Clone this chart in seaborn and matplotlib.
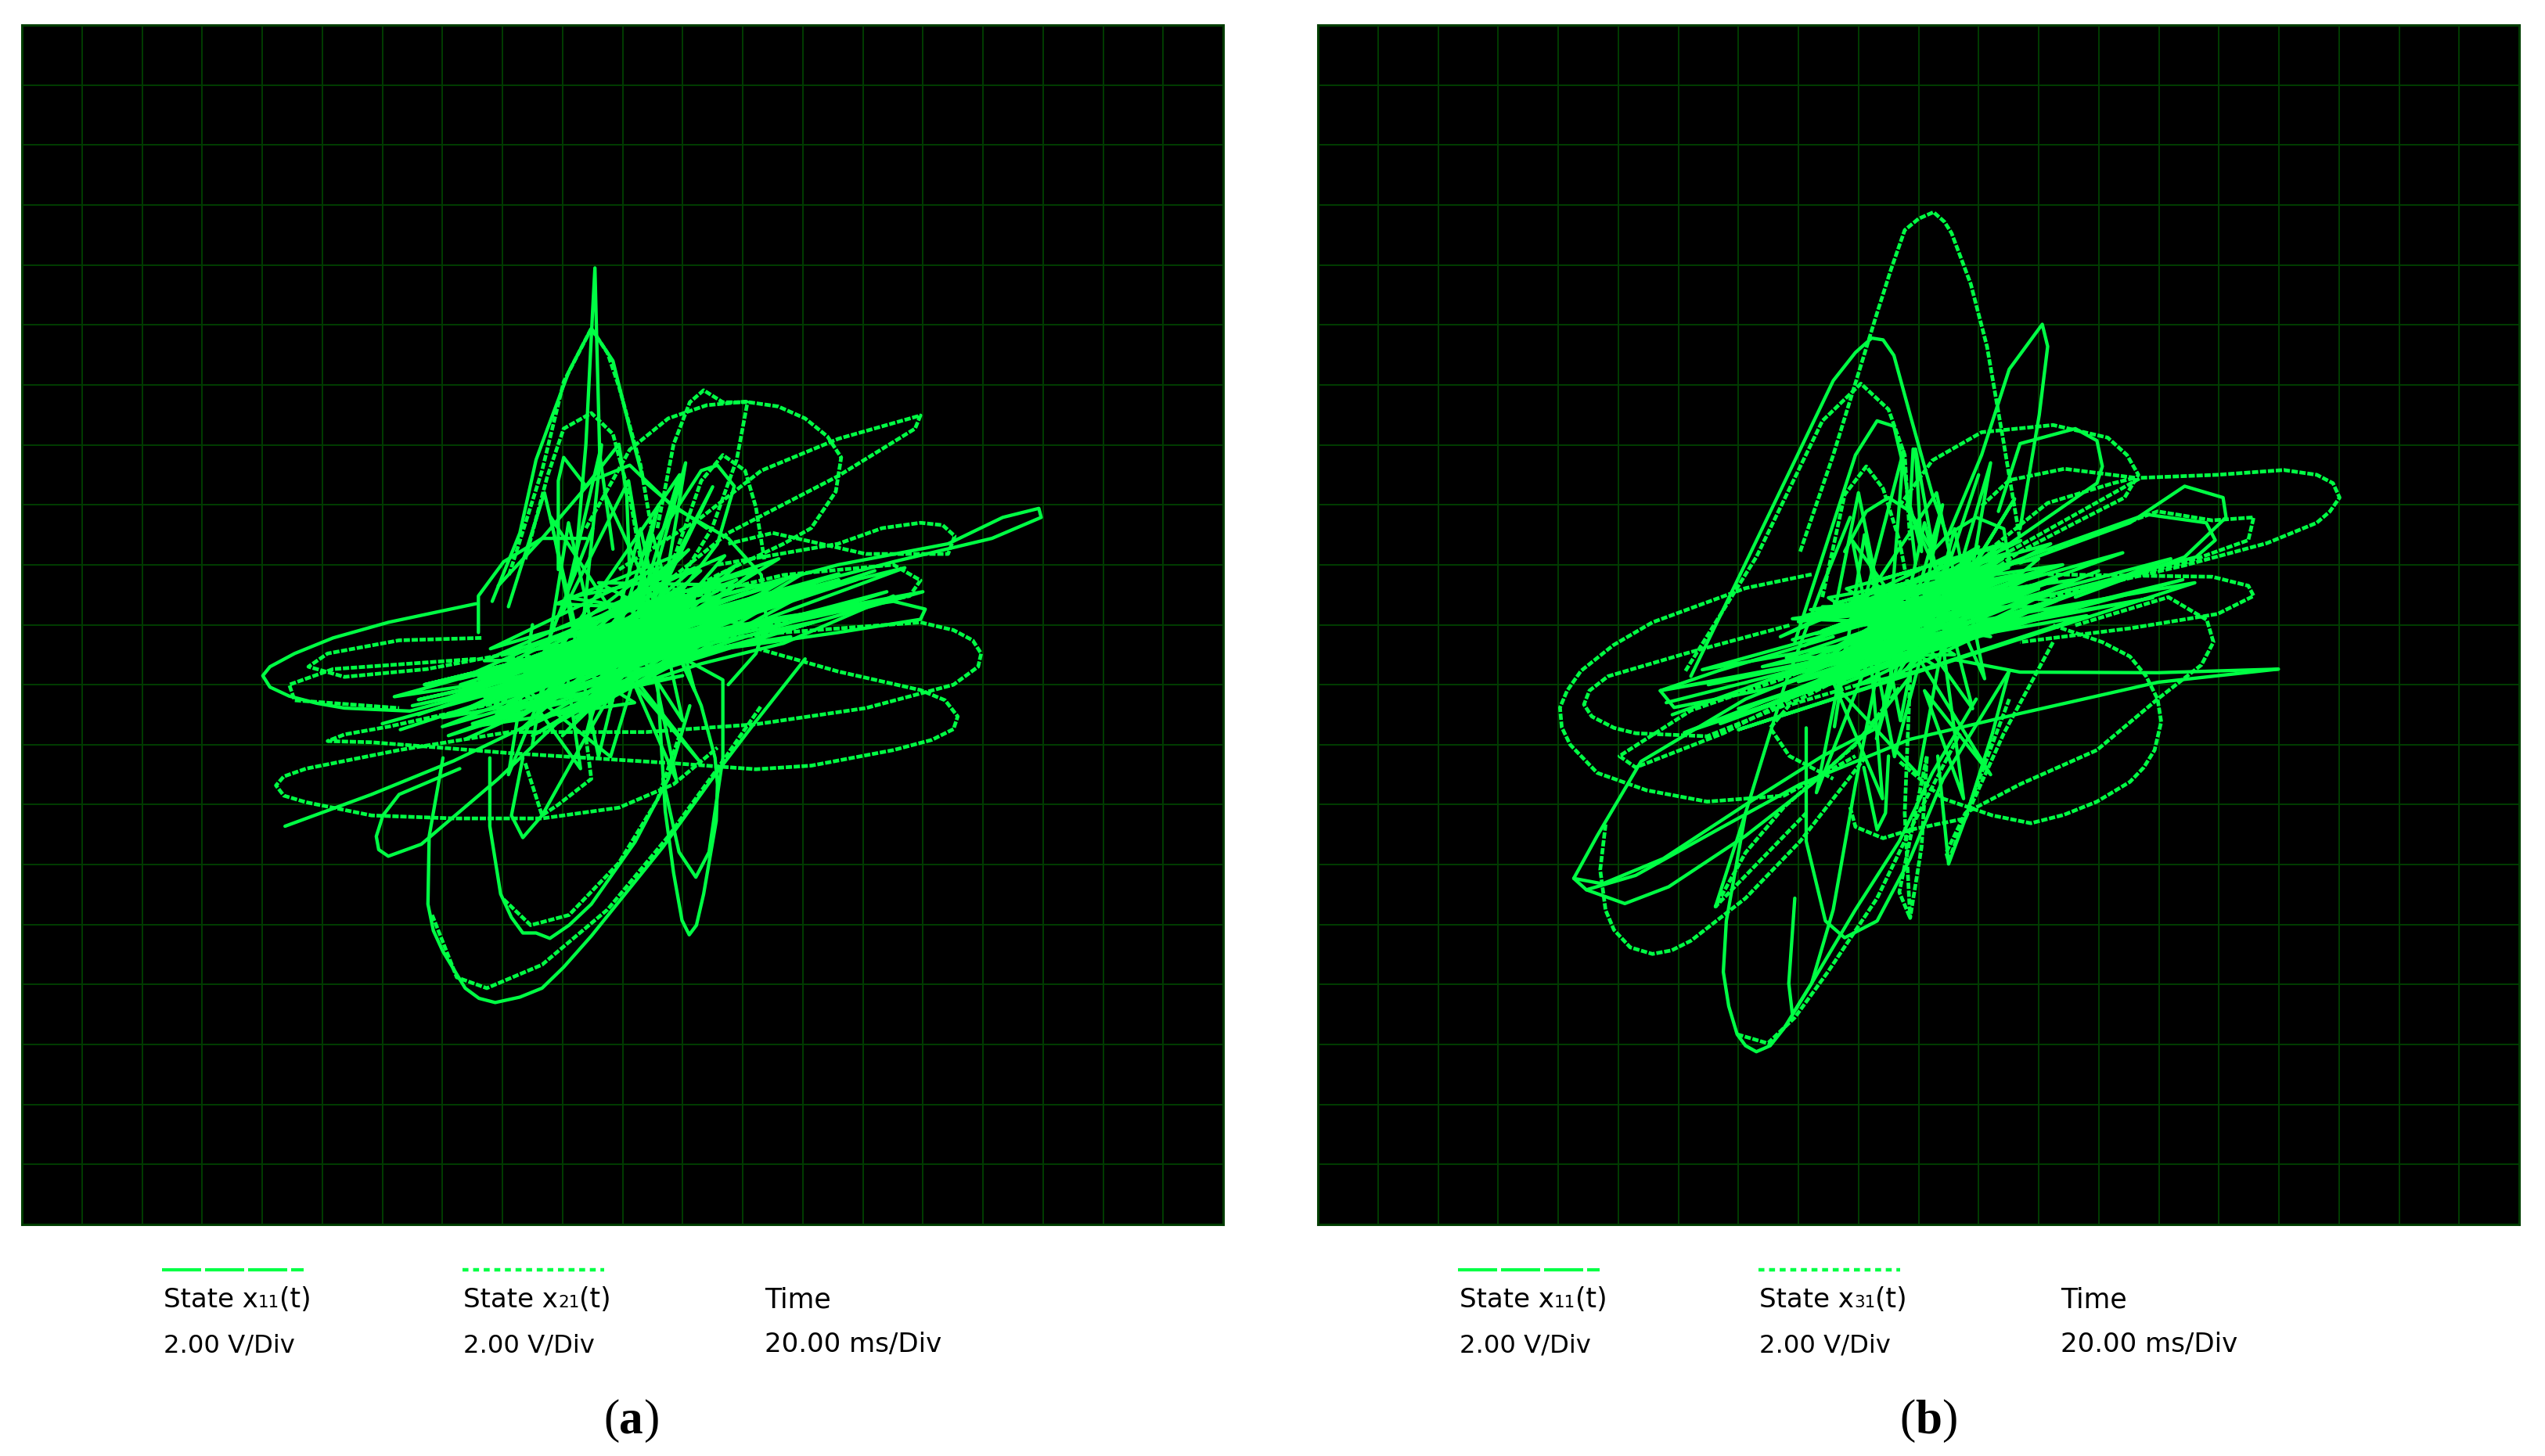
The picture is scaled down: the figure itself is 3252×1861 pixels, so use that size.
import seaborn as sns
import matplotlib
matplotlib.use("Agg")
import matplotlib.pyplot as plt
from matplotlib.lines import Line2D

W, H = 3252, 1861
GREEN = "#00ff44"
GRID = "#003d00"

# all traces in scope divisions from the screen centre
# panel (a)
a_spike_x = [-0.80, -0.61, -0.50, -0.46, -0.43, -0.38, -0.16]
a_spike_y = [0.83, 3.01, 5.20, 5.95, 4.75, 2.84, 1.26]
a_dome_x = [-2.17, -1.71, -1.44, -1.25, -0.89, -0.52, -0.16, 0.12, 0.35, 0.76, 1.40]
a_dome_y = [0.39, 1.53, 2.75, 3.27, 4.23, 4.94, 4.40, 3.27, 2.40, 2.05, 1.61]
a_dome2_x = [-1.89, -1.34, -0.98, -0.52, -0.25, -0.06, 0.30, 0.48]
a_dome2_y = [0.83, 2.57, 4.05, 4.94, 4.53, 3.97, 2.66, 1.61]
a_top_x = [-0.61, 0.12, 0.76, 1.40, 2.04, 2.59, 3.04, 3.41, 3.64, 3.55, 3.14, 2.68, 1.58, 0.48]
a_top_y = [1.61, 2.92, 3.44, 3.66, 3.72, 3.64, 3.44, 3.14, 2.79, 2.22, 1.61, 1.35, 0.83, 0.22]
a_hump_x = [0.58, 0.85, 1.12, 1.35, 1.67, 2.08, 1.90, 1.49, 0.85]
a_hump_y = [1.61, 3.01, 3.71, 3.91, 3.71, 3.71, 2.75, 1.61, 0.57]
a_ne_x = [-0.06, 1.31, 2.31, 3.59, 4.96, 4.87, 3.59, 1.76, 0.12]
a_ne_y = [0.92, 1.79, 2.57, 3.10, 3.49, 3.27, 2.48, 1.53, 0.22]
a_tip_x = [0.67, 3.59, 5.42, 6.33, 6.93, 6.97, 6.15, 4.51, 2.68, 0.85]
a_tip_y = [0.22, 1.00, 1.35, 1.79, 1.94, 1.79, 1.44, 1.05, 0.57, 0.04]
a_east_x = [1.58, 3.59, 4.32, 4.96, 5.33, 5.53, 5.42, 4.05, 2.50, 1.76]
a_east_y = [1.00, 1.35, 1.61, 1.70, 1.66, 1.48, 1.18, 1.18, 1.53, 1.35]
a_east2_x = [0.85, 2.68, 4.51, 4.96, 4.78, 3.59, 1.76, -0.06]
a_east2_y = [0.39, 0.83, 1.00, 0.74, 0.48, 0.22, -0.13, -0.48]
a_east3_x = [-0.06, 2.68, 4.51, 5.04, 4.96, 3.59, 1.76, -0.98]
a_east3_y = [-0.39, 0.13, 0.39, 0.26, 0.09, -0.13, -0.39, -0.83]
a_right_x = [-1.89, 2.68, 4.96, 5.51, 5.83, 5.97, 5.92, 5.51, 4.05, 2.22, 0.39, -1.89]
a_right_y = [-0.57, -0.13, 0.04, -0.09, -0.26, -0.48, -0.70, -1.00, -1.39, -1.66, -1.79, -1.79]
a_lower_x = [2.22, 3.59, 4.96, 5.37, 5.58, 5.51, 5.15, 4.51, 3.14, 2.22, 0.85, -1.89, -4.18, -4.91, -4.63, -3.90, -1.89]
a_lower_y = [-0.39, -0.78, -1.09, -1.26, -1.53, -1.74, -1.92, -2.09, -2.35, -2.41, -2.31, -2.14, -1.96, -1.94, -1.83, -1.70, -1.26]
a_west_x = [-2.44, -3.90, -4.82, -5.46, -5.87, -5.99, -5.87, -5.55, -5.09, -4.63, -3.54, -1.89, -0.52]
a_west_y = [0.35, 0.04, -0.22, -0.48, -0.70, -0.85, -1.04, -1.19, -1.31, -1.39, -1.44, -1.00, -0.39]
a_west2_x = [-2.35, -3.72, -4.91, -5.23, -4.63, -3.26, -1.89]
a_west2_y = [-0.22, -0.26, -0.48, -0.70, -0.87, -0.74, -0.48]
a_west3_x = [-2.44, -4.82, -5.55, -5.46, -3.72]
a_west3_y = [-0.57, -0.74, -1.00, -1.26, -1.39]
a_sw_x = [-1.89, -3.72, -5.27, -5.64, -5.77, -5.64, -5.27, -4.18, -2.81, -1.34, -0.06, 0.85, 1.58]
a_sw_y = [-1.79, -2.09, -2.40, -2.53, -2.68, -2.85, -2.96, -3.18, -3.23, -3.23, -3.05, -2.66, -2.05]
a_tail_x = [-5.62, -4.18, -2.81, -1.44, -0.06, 1.31, 2.68, 4.51]
a_tail_y = [-3.36, -2.83, -2.27, -1.61, -1.09, -0.65, -0.31, 0.48]
a_big_x = [-2.99, -3.22, -3.24, -3.15, -2.99, -2.62, -2.39, -2.12, -1.71, -1.34, -0.98, -0.52, 0.67, 1.49, 2.22, 3.04]
a_big_y = [-2.22, -3.53, -4.66, -5.10, -5.45, -6.06, -6.23, -6.30, -6.21, -6.06, -5.71, -5.19, -3.71, -2.57, -1.61, -0.57]
a_big2_x = [-3.17, -2.76, -2.26, -1.34, -0.25, 0.76, 1.58, 2.31]
a_big2_y = [-4.84, -5.88, -6.06, -5.67, -4.75, -3.53, -2.40, -1.35]
a_mid_x = [-2.21, -2.21, -2.03, -1.85, -1.66, -1.44, -1.21, -0.89, -0.52, 0.21, 0.76, 1.12]
a_mid_y = [-2.22, -3.36, -4.49, -4.88, -5.14, -5.14, -5.23, -5.01, -4.66, -3.62, -2.57, -1.35]
a_mid2_x = [-1.98, -1.53, -0.89, -0.06, 0.58, 0.94]
a_mid2_y = [-4.58, -5.01, -4.84, -3.97, -2.92, -1.87]
a_narrow_x = [0.58, 0.71, 0.85, 0.99, 1.11, 1.23, 1.35, 1.56, 1.58, 1.54, 1.31, 0.94]
a_narrow_y = [-0.92, -3.10, -4.14, -4.93, -5.17, -5.01, -4.49, -3.27, -2.66, -2.22, -1.35, -0.48]
a_narrow2_x = [0.67, 0.94, 1.22, 1.44, 1.67, 1.67, 1.03]
a_narrow2_y = [-2.57, -3.79, -4.21, -3.79, -2.22, -0.92, -0.57]
a_small_x = [-2.71, -3.72, -3.99, -4.10, -4.06, -3.90, -3.35, -2.07, -0.61, 0.30]
a_small_y = [-2.40, -2.83, -3.18, -3.53, -3.75, -3.86, -3.66, -2.57, -1.18, -0.31]
a_low_x = [-1.66, -1.85, -1.66, -1.34, -0.61, -0.16]
a_low_y = [-2.22, -3.18, -3.55, -3.18, -1.87, -1.09]
a_low2_x = [-1.62, -1.34, -1.07, -0.52, -0.61]
a_low2_y = [-2.31, -3.18, -3.00, -2.57, -1.87]
a_up1_x = [-2.07, -1.34, -0.52, 0.12, 0.85, 1.76, 2.31, 2.40, 2.22, 1.76]
a_up1_y = [0.65, 1.44, 2.40, 2.66, 1.96, 1.44, 0.83, 0.04, -0.48, -1.00]
a_up2_x = [-1.07, -1.07, -0.98, -0.61, -0.06, 0.07, 0.12]
a_up2_y = [0.92, 2.40, 2.79, 2.31, 3.01, 2.14, 0.83]
a_up3_x = [-1.62, -1.25, -0.98, -0.52, -0.16, 0.12, 0.30]
a_up3_y = [1.09, 2.48, 3.27, 3.53, 3.18, 2.14, 1.09]
a_up4_x = [0.85, 1.31, 1.67, 2.04, 2.22, 2.36]
a_up4_y = [1.09, 2.40, 2.83, 2.57, 1.96, 1.09]
a_up5_x = [0.58, 1.31, 1.58, 1.86, 1.58, 0.85]
a_up5_y = [1.44, 2.57, 2.66, 2.31, 1.35, 0.39]
a_up6_x = [-2.40, -2.40, -1.98, -1.34, -0.61]
a_up6_y = [-0.13, 0.48, 1.05, 1.44, 1.44]
a_core_x = [-3.4, 1.5, -2.2, 3.2, -1.6, 1.2, -2.8, 2.4, -1.3, 4.2, -2.0, 0.9, -1.1, 1.8, -2.6, 1.0, -0.9,
            2.9, -1.9, 1.4, -1.4, 3.6, -2.4, 0.8, -0.7, 2.1, -3.0, 1.3, -1.2, 1.0, -1.7, 2.6, -0.8, 1.6,
            -2.1, 0.9, -1.5, 3.0, -2.3, 1.2, -1.0, 1.9, -1.8, 1.4, -0.6, 2.2, -2.7, 0.7, -1.3, 1.1]
a_core_y = [-1.5, 0.2, -1.2, 0.7, -0.8, 0.45, -1.5, 0.55, -0.95, 0.9, -1.1, 0.55, -0.6, 0.3, -1.05, 0.5, -0.9,
            0.45, -0.7, 0.6, -1.2, 0.75, -0.85, 0.25, -0.35, 0.55, -1.25, 0.05, -0.75, 0.65, -0.95, 0.35, -0.45,
            0.7, -0.85, 0.1, -0.55, 0.5, -1.2, 0.4, -0.9, 0.75, -0.65, 0.2, -0.75, 0.3, -0.9, 0.6, -0.4, 0.15]
a_core2_x = [-2.6, 1.8, -2.0, 2.6, -1.8, 1.2, -2.4, 1.6, -1.2, 2.2, -2.2, 0.6, -1.6, 2.8, -2.8, 0.4, -1.0, 1.9,
             -2.0, 1.5, -0.8, 3.2, -1.4, 0.2, -2.5, 2.0, -1.1, 1.0, -1.9, 2.4, -0.5, 1.7, -2.3, 0.9, -1.7, 1.3,
             -0.9, 2.1, -2.1, 1.1, -1.3, 0.7, -2.7, 2.5, -0.4, 1.4, -1.5, 3.0, -1.0, 0.5]
a_core2_y = [-1.9, 0.1, -0.5, 1.1, -1.6, 0.95, -0.9, -0.1, -1.7, 0.9, -0.4, 0.95, -1.7, 0.8, -1.3, -0.35, -1.85,
             1.0, -1.4, -0.1, -1.55, 0.6, -0.3, -1.3, -1.7, 0.2, 0.35, 1.2, -1.2, 0.3, -1.4, 1.15, -0.6, -0.55,
             -1.75, 0.9, 0.45, 0.0, -1.5, 1.25, -1.15, -0.7, -1.0, 0.65, 0.7, -0.25, -1.85, 0.85, -0.2, 0.95]
a_vert_x = [-1.5, -0.9, -0.2, 0.6, -0.6, 0.3, 1.0, -1.2, -0.4, 0.5, 1.2, -0.3]
a_vert_y = [-2.0, 1.7, -1.4, 2.0, -1.8, 1.6, -1.6, 1.8, -2.2, 1.5, -1.1, 2.2]
a_vert2_x = [-1.9, -1.3, -0.7, -0.35, -1.0, 0.1, 0.55, 1.05, 0.3, 1.5, -0.1, 0.95, -1.6, -0.5]
a_vert2_y = [0.3, 2.2, -0.4, 3.0, 0.2, 2.4, -0.3, 2.7, 0.0, 2.3, -1.0, 2.5, -1.2, 1.6]
a_vert3_x = [-1.5, -1.9, -1.0, -0.7, -1.7, -0.2, 0.4, 0.9, 0.2, 1.3, -0.5]
a_vert3_y = [0.0, -2.5, -0.3, -2.4, -1.0, -2.2, -0.2, -2.6, -1.0, -2.3, 0.0]
a_flat_x = [-4.0, 0.5, -3.4, 2.0, -3.0, 1.0, -2.5, 4.4, -2.0]
a_flat_y = [-1.65, -0.4, -1.25, 0.0, -1.55, -0.85, -1.65, 0.55, -1.15]
a_fan_x = [-3.7, 3.9, -3.3, 4.7, -2.9, 3.2, -3.5, 4.2, -2.5, 5.0, -3.0, 3.6, -3.8, 2.8]
a_fan_y = [-1.75, 0.75, -1.0, 0.95, -1.85, 0.05, -1.35, 0.35, -0.85, 0.55, -1.7, 0.85, -1.2, -0.2]

# panel (b)
b_dome_x = [-1.97, -1.42, -0.69, -0.46, -0.23, 0.00, 0.25, 0.43, 0.55, 0.87, 1.14, 1.42, 1.69]
b_dome_y = [1.22, 2.83, 5.20, 5.92, 6.58, 6.77, 6.88, 6.72, 6.53, 5.68, 4.64, 3.02, 1.41]
b_tip_x = [0.50, 1.05, 1.51, 2.06, 2.15, 2.01, 1.69]
b_tip_y = [1.51, 2.83, 4.26, 5.01, 4.64, 3.50, 1.60]
b_dome2_x = [-3.79, -3.06, -2.24, -1.42, -1.05, -0.78, -0.59, -0.41, -0.14, 0.23, 0.50]
b_dome2_y = [-0.86, 0.65, 2.36, 4.07, 4.54, 4.78, 4.75, 4.49, 3.50, 2.17, 1.41]
b_dome3_x = [-3.88, -2.70, -1.60, -0.96, -0.50, -0.23, -0.14]
b_dome3_y = [-0.77, 1.13, 3.40, 4.02, 3.59, 2.83, 1.41]
b_dome4_x = [-2.06, -1.60, -1.05, -0.69, -0.41, -0.23, -0.05]
b_dome4_y = [-0.29, 1.13, 2.83, 3.40, 3.31, 2.55, 1.03]
b_dome5_x = [-1.60, -1.23, -0.87, -0.59, -0.32, -0.14]
b_dome5_y = [0.46, 2.17, 2.64, 2.27, 1.41, 0.46]
b_ur_x = [-0.32, 0.23, 1.05, 2.24, 3.15, 3.47, 3.66, 3.43, 2.61, 1.69, 0.59]
b_ur_y = [1.98, 2.74, 3.21, 3.33, 3.12, 2.83, 2.50, 2.12, 1.70, 1.22, 0.46]
b_ur2_x = [1.33, 1.69, 2.61, 2.97, 3.06, 2.97, 2.15, 0.78]
b_ur2_y = [1.89, 3.02, 3.27, 3.07, 2.64, 2.36, 1.79, 0.84]
b_ur3_x = [1.05, 1.51, 2.43, 3.61, 3.24, 2.15, 1.14]
b_ur3_y = [1.98, 2.41, 2.60, 2.45, 2.36, 2.03, 1.22]
b_tip2_x = [1.51, 3.70, 4.98, 6.08, 6.63, 6.90, 7.01, 6.85, 6.63, 5.80, 4.43, 2.15]
b_tip2_y = [1.22, 2.45, 2.50, 2.58, 2.50, 2.36, 2.12, 1.89, 1.70, 1.36, 0.99, 0.46]
b_east_x = [1.69, 3.52, 4.43, 5.07, 5.12, 4.43, 2.61]
b_east_y = [1.03, 1.70, 2.31, 2.12, 1.79, 1.13, 0.46]
b_east2_x = [2.15, 3.98, 4.89, 5.58, 5.49, 4.43, 2.42]
b_east2_y = [1.22, 1.89, 1.74, 1.79, 1.41, 1.03, 0.56]
b_east3_x = [1.51, 3.79, 4.79, 4.94, 4.62, 3.52, 1.69]
b_east3_y = [1.03, 1.84, 1.70, 1.41, 1.13, 0.84, 0.37]
b_east4_x = [2.15, 4.89, 5.49, 5.58, 4.98, 3.52, 1.69]
b_east4_y = [0.84, 0.80, 0.65, 0.48, 0.18, -0.06, -0.29]
b_se_x = [2.24, 3.06, 3.52, 3.79, 3.98, 4.04, 3.93, 3.75, 3.52, 2.97, 2.42, 1.87, 1.23, 0.41, -0.32]
b_se_y = [-0.01, -0.29, -0.53, -0.86, -1.24, -1.62, -2.09, -2.38, -2.62, -2.95, -3.17, -3.31, -3.18, -2.90, -2.28]
b_se2_x = [2.61, 4.16, 4.80, 4.91, 4.71, 3.98, 2.97, 1.69, 0.78, 0.46, 0.50, 0.87, 1.51]
b_se2_y = [-0.01, 0.46, 0.08, -0.29, -0.67, -1.24, -2.09, -2.66, -3.14, -3.80, -3.94, -2.95, -1.24]
b_tail_x = [5.99, 3.98, 1.69, -0.14, -1.97, -3.35, -4.71, -5.53, -5.74, -5.35, -4.62, -2.88, -1.05]
b_tail_y = [-0.74, -0.96, -1.48, -1.91, -2.66, -3.42, -4.18, -4.42, -4.23, -3.52, -2.28, -1.24, -0.49]
b_tail2_x = [5.99, 3.98, 1.69, 0.59]
b_tail2_y = [-0.74, -0.80, -0.79, -0.58]
b_west_x = [-1.78, -2.88, -4.43, -5.08, -5.62, -5.85, -5.97, -5.94, -5.80, -5.35, -4.53, -3.52, -2.24, -1.05]
b_west_y = [0.84, 0.61, 0.04, -0.34, -0.77, -1.10, -1.38, -1.71, -2.00, -2.47, -2.76, -2.95, -2.85, -2.19]
b_west2_x = [-2.15, -3.88, -5.17, -5.48, -5.57, -5.44, -5.07, -4.71, -3.52, -1.97, -0.87]
b_west2_y = [-0.01, -0.48, -0.86, -1.10, -1.33, -1.53, -1.72, -1.81, -1.86, -1.24, -0.67]
b_west3_x = [-1.42, -3.34, -4.30, -4.07, -2.42, -0.69]
b_west3_y = [-0.20, -0.77, -1.10, -1.38, -1.05, -0.48]
b_west4_x = [-0.78, -2.15, -3.79, -4.98, -4.71, -3.25, -1.42]
b_west4_y = [-0.29, -0.86, -1.43, -2.19, -2.38, -1.81, -0.86]
b_sw_x = [-5.21, -5.30, -5.21, -5.07, -4.80, -4.43, -4.11, -3.79, -2.88, -1.97, -0.87]
b_sw_y = [-3.33, -4.09, -4.76, -5.09, -5.38, -5.49, -5.43, -5.27, -4.56, -3.61, -2.19]
b_sw2_x = [-5.53, -4.89, -4.16, -2.88, -1.78, -0.87, -0.14]
b_sw2_y = [-4.42, -4.65, -4.37, -3.52, -2.66, -1.81, -0.86]
b_sw3_x = [-5.74, -5.26, -4.25, -2.88, -1.60, -0.69]
b_sw3_y = [-4.23, -4.32, -3.90, -3.00, -2.19, -1.72]
b_sw4_x = [-0.32, -1.05, -2.24, -2.88, -3.38, -3.06, -1.87]
b_sw4_y = [-1.05, -2.00, -3.04, -3.80, -4.70, -4.37, -3.14]
b_sw5_x = [-3.38, -2.88, -2.24, -1.60, -1.14]
b_sw5_y = [-4.70, -3.14, -1.05, 0.65, 1.79]
b_big_x = [-2.88, -3.20, -3.25, -3.16, -3.02, -2.88, -2.70, -2.47, -2.24, -1.78, -1.05, -0.32, 0.23, 0.96]
b_big_y = [-3.14, -4.94, -5.79, -6.36, -6.83, -7.02, -7.12, -7.02, -6.73, -5.98, -4.75, -3.61, -2.47, -1.24]
b_big2_x = [-3.02, -2.51, -2.06, -1.51, -0.69, -0.14, 0.69]
b_big2_y = [-6.83, -6.98, -6.55, -5.79, -4.56, -3.42, -1.81]
b_big3_x = [-2.06, -2.16, -2.10, -1.78, -1.42, -1.05, -0.59]
b_big3_y = [-4.56, -5.98, -6.50, -5.98, -4.75, -2.66, -0.29]
b_low_x = [-1.87, -1.87, -1.55, -1.23, -0.69, -0.14, 0.41, 1.51]
b_low_y = [-1.72, -3.61, -4.94, -5.22, -4.94, -3.90, -2.57, -0.77]
b_low2_x = [-1.14, -1.05, -0.59, -0.14, 0.78, 1.42, 2.24]
b_low2_y = [-3.04, -3.37, -3.56, -3.42, -3.23, -1.81, -0.29]
b_low3_x = [-0.91, -0.69, -0.55, -0.50]
b_low3_y = [-2.38, -3.42, -3.14, -2.19]
b_low4_x = [-0.14, -0.23, -0.14, 0.05, 0.14, -0.32, -0.14]
b_low4_y = [-0.86, -3.14, -4.89, -3.71, -2.19, -4.46, -4.89]
b_low5_x = [0.32, 0.50, 0.78, 1.23, 1.51]
b_low5_y = [-2.19, -3.99, -3.23, -1.81, -0.77]
b_ring_x = [-0.87, -2.15, -2.47, -2.15, -1.42]
b_ring_y = [-0.96, -1.34, -1.72, -2.19, -2.57]
b_up1_x = [-1.23, -0.87, -0.50, -0.14, 0.23, 0.50, 0.96, 1.42, 1.51]
b_up1_y = [1.22, 1.89, 2.12, 1.89, 1.22, 1.51, 1.79, 1.60, 1.03]
b_up2_x = [-0.09, -0.14, 0.05, -0.05, 0.23]
b_up2_y = [2.93, 1.98, 1.22, 2.93, 1.32]
b_core_x = [-2.1, 2.2, -1.3, 1.6, -2.0, 1.9, -1.0, 1.4, -1.7, 2.3, -0.8, 1.2, -1.5, 1.7, -1.9, 1.0, -0.7, 2.0,
            -1.2, 1.5, -1.6, 1.3, -0.9, 2.1, -1.4, 0.9, -0.6, 1.8, -1.8, 1.1, -1.0, 1.6, -0.5, 1.3, -1.3, 2.0,
            -1.6, 0.8, -0.8, 1.4]
b_core_y = [-0.25, 0.95, -0.35, 1.05, 0.05, 0.65, -0.5, 1.1, -0.15, 0.75, -0.4, 0.5, -0.45, 0.85, 0.15, 0.9,
            -0.45, 0.6, 0.2, 0.95, -0.1, 0.3, -0.55, 0.9, -0.4, 0.65, -0.2, 0.8, 0.25, 0.45, 0.05, 1.05, -0.3,
            0.75, -0.5, 0.45, 0.1, 0.85, -0.1, 0.95]
b_core2_x = [-2.0, 1.5, -1.4, 2.2, -1.8, 0.9, -1.1, 1.9, -1.6, 1.2, -0.7, 2.4, -2.2, 0.6, -1.2, 1.7, -1.9, 1.0,
             -0.4, 2.0, -1.5, 0.3, -1.0, 2.6, -2.1, 0.8, -0.8, 1.4, -1.7, 1.8, -0.2, 1.1, -2.3, 0.5, -1.3, 2.3,
             -0.6, 1.5, -1.8, 1.0]
b_core2_y = [-0.9, 1.2, 0.35, 1.35, -0.75, 1.15, -0.85, 0.3, 0.3, -0.2, 0.55, 1.0, -0.55, -0.5, 0.6, 1.4, -0.35,
             1.3, -0.9, 1.1, 0.45, -0.7, -1.0, 0.75, 0.1, 0.0, 0.7, 1.35, -0.95, 0.2, -0.75, 1.25, -0.2, 1.15,
             -1.0, 0.4, 0.65, -0.05, -0.6, 0.95]
b_flat_x = [-4.2, 0.5, -3.5, 2.5, -3.0, 1.5, -2.4, 4.4, -2.0, 3.6, -1.0]
b_flat_y = [-1.3, -0.1, -1.0, 0.25, -1.4, 0.1, -0.9, 0.75, -0.95, 0.85, -0.65]
b_fan_x = [-4.1, 3.4, -3.6, 4.6, -3.0, 2.8, -4.3, 3.9, -2.6, 4.2, -3.3, 3.0, -3.9, 2.4]
b_fan_y = [-1.5, 1.2, -0.75, 0.7, -1.75, 0.15, -1.1, 0.45, -0.7, 1.1, -1.65, 0.9, -1.8, 0.3]
b_vert_x = [-1.4, -0.9, -0.3, 0.4, -0.7, 0.1, 0.9, -1.1, -0.4, 0.6, 1.1, -0.2]
b_vert_y = [-1.7, 1.5, -1.6, 2.0, -1.9, 1.7, -1.4, 1.4, -2.2, 1.6, -0.9, 2.0]
b_vert2_x = [-1.4, -1.0, -0.5, -0.25, -0.9, 0.3, 0.75, 1.2, 0.5, 1.6, 0.0, 1.0]
b_vert2_y = [0.2, 2.2, -0.3, 2.9, 0.4, 2.2, 0.1, 2.7, 0.3, 2.1, -0.5, 2.5]
b_vert3_x = [-1.2, -1.7, -0.8, -0.6, -1.4, 0.0, 0.4, 0.75, 0.1, 1.2, -0.4]
b_vert3_y = [-0.3, -2.8, -0.5, -2.9, -1.0, -2.5, -0.3, -2.9, -1.1, -2.5, 0.1]

traces_a = [
    (a_spike_x, a_spike_y, "-"), (a_dome_x, a_dome_y, "-"), (a_dome2_x, a_dome2_y, ":"),
    (a_top_x, a_top_y, ":"), (a_hump_x, a_hump_y, ":"), (a_ne_x, a_ne_y, ":"), (a_tip_x, a_tip_y, "-"),
    (a_east_x, a_east_y, ":"), (a_east2_x, a_east2_y, ":"), (a_east3_x, a_east3_y, "-"),
    (a_right_x, a_right_y, ":"), (a_lower_x, a_lower_y, ":"), (a_west_x, a_west_y, "-"),
    (a_west2_x, a_west2_y, ":"), (a_west3_x, a_west3_y, ":"), (a_sw_x, a_sw_y, ":"), (a_tail_x, a_tail_y, "-"),
    (a_big_x, a_big_y, "-"), (a_big2_x, a_big2_y, ":"), (a_mid_x, a_mid_y, "-"), (a_mid2_x, a_mid2_y, ":"),
    (a_narrow_x, a_narrow_y, "-"), (a_narrow2_x, a_narrow2_y, "-"), (a_small_x, a_small_y, "-"),
    (a_low_x, a_low_y, "-"), (a_low2_x, a_low2_y, ":"), (a_up1_x, a_up1_y, "-"), (a_up2_x, a_up2_y, "-"),
    (a_up3_x, a_up3_y, ":"), (a_up4_x, a_up4_y, ":"), (a_up5_x, a_up5_y, "-"), (a_up6_x, a_up6_y, "-"),
    (a_core_x, a_core_y, "-"), (a_core2_x, a_core2_y, "-"), (a_vert_x, a_vert_y, "-"),
    (a_vert2_x, a_vert2_y, "-"), (a_vert3_x, a_vert3_y, "-"), (a_flat_x, a_flat_y, "-"), (a_fan_x, a_fan_y, "-"),
]
traces_b = [
    (b_dome_x, b_dome_y, ":"), (b_tip_x, b_tip_y, "-"), (b_dome2_x, b_dome2_y, "-"), (b_dome3_x, b_dome3_y, ":"),
    (b_dome4_x, b_dome4_y, "-"), (b_dome5_x, b_dome5_y, ":"), (b_ur_x, b_ur_y, ":"), (b_ur2_x, b_ur2_y, "-"),
    (b_ur3_x, b_ur3_y, ":"), (b_tip2_x, b_tip2_y, ":"), (b_east_x, b_east_y, "-"), (b_east2_x, b_east2_y, ":"),
    (b_east3_x, b_east3_y, "-"), (b_east4_x, b_east4_y, ":"), (b_se_x, b_se_y, ":"), (b_se2_x, b_se2_y, ":"),
    (b_tail_x, b_tail_y, "-"), (b_tail2_x, b_tail2_y, "-"), (b_west_x, b_west_y, ":"), (b_west2_x, b_west2_y, ":"),
    (b_west3_x, b_west3_y, "-"), (b_west4_x, b_west4_y, ":"), (b_sw_x, b_sw_y, ":"), (b_sw2_x, b_sw2_y, "-"),
    (b_sw3_x, b_sw3_y, "-"), (b_sw4_x, b_sw4_y, ":"), (b_sw5_x, b_sw5_y, "-"), (b_big_x, b_big_y, "-"),
    (b_big2_x, b_big2_y, ":"), (b_big3_x, b_big3_y, "-"), (b_low_x, b_low_y, "-"), (b_low2_x, b_low2_y, ":"),
    (b_low3_x, b_low3_y, "-"), (b_low4_x, b_low4_y, ":"), (b_low5_x, b_low5_y, "-"), (b_ring_x, b_ring_y, ":"),
    (b_up1_x, b_up1_y, "-"), (b_up2_x, b_up2_y, "-"), (b_core_x, b_core_y, "-"), (b_core2_x, b_core2_y, "-"),
    (b_flat_x, b_flat_y, "-"), (b_fan_x, b_fan_y, "-"), (b_vert_x, b_vert_y, "-"), (b_vert2_x, b_vert2_y, "-"),
    (b_vert3_x, b_vert3_y, "-"),
]

state_labels = ["21", "31"]
captions = ["a", "b"]
volt_label = "2.00 V/Div"
time_label = "20.00 ms/Div"
div_ticks = list(range(-10, 11))

sns.set_theme(style="white")
plt.rcParams["font.family"] = ["DejaVu Sans"]
fig = plt.figure(figsize=(W / 100, H / 100), dpi=100, facecolor="white")


def fx(px):
    return px / W


def fy(py):
    return 1 - py / H


def chain(px, py, pieces):
    # text pieces one after the other on a baseline, small digits for the indices
    for txt, size in pieces:
        t = fig.text(fx(px), fy(py), txt, fontsize=size, color="black", va="baseline", ha="left")
        px = t.get_window_extent(fig.canvas.get_renderer()).x1


def draw_panel(left, traces, second, caption):
    ax = fig.add_axes([fx(left), fy(1565), fx(1535), 1533 / H], facecolor="black")
    for x, y, style in traces:
        if style == "-":
            sns.lineplot(x=x, y=y, sort=False, estimator=None, ax=ax, color=GREEN, linewidth=3.1,
                         solid_joinstyle="round")
        else:
            sns.lineplot(x=x, y=y, sort=False, estimator=None, ax=ax, color=GREEN, linewidth=3.4,
                         linestyle=(0, (1.7, 0.45)))
    ax.set_xlim(-10, 10)
    ax.set_ylim(-10, 10)
    ax.set_xticks(div_ticks)
    ax.set_yticks(div_ticks)
    ax.set_xlabel("")
    ax.set_ylabel("")
    ax.tick_params(length=0, labelbottom=False, labelleft=False)
    ax.grid(True, color=GRID, linewidth=1.4)
    ax.set_axisbelow(True)
    for s in ax.spines.values():
        s.set_color(GRID)
        s.set_linewidth(2.2)

    off = left - 28
    fig.add_artist(Line2D([fx(207 + off), fx(388 + off)], [fy(1623)] * 2, color=GREEN, linewidth=3,
                          linestyle=(0, (12, 1.2)), transform=fig.transFigure))
    fig.add_artist(Line2D([fx(591 + off), fx(772 + off)], [fy(1623)] * 2, color=GREEN, linewidth=3.2,
                          linestyle=(0, (1.7, 1.35)), dash_capstyle="butt", transform=fig.transFigure))
    chain(209 + off, 1671, [("State x", 24.5), ("11", 15.5), ("(t)", 25)])
    chain(592 + off, 1671, [("State x", 24.5), (second, 15.5), ("(t)", 25)])
    chain(977 + off, 1671, [("Time", 25)])
    chain(209 + off, 1728, [(volt_label, 23.2)])
    chain(592 + off, 1728, [(volt_label, 23.2)])
    chain(977 + off, 1728, [(time_label, 24.5)])

    cap_x = 771 + off
    for txt, weight in [("(", "normal"), (caption, "bold"), (")", "normal")]:
        t = fig.text(fx(cap_x), fy(1831), txt, family="Liberation Serif", fontsize=44, fontweight=weight,
                     color="black", va="baseline", ha="left")
        cap_x = t.get_window_extent(fig.canvas.get_renderer()).x1


draw_panel(28, traces_a, state_labels[0], captions[0])
draw_panel(1684, traces_b, state_labels[1], captions[1])

fig.savefig("out.png", dpi=100)
